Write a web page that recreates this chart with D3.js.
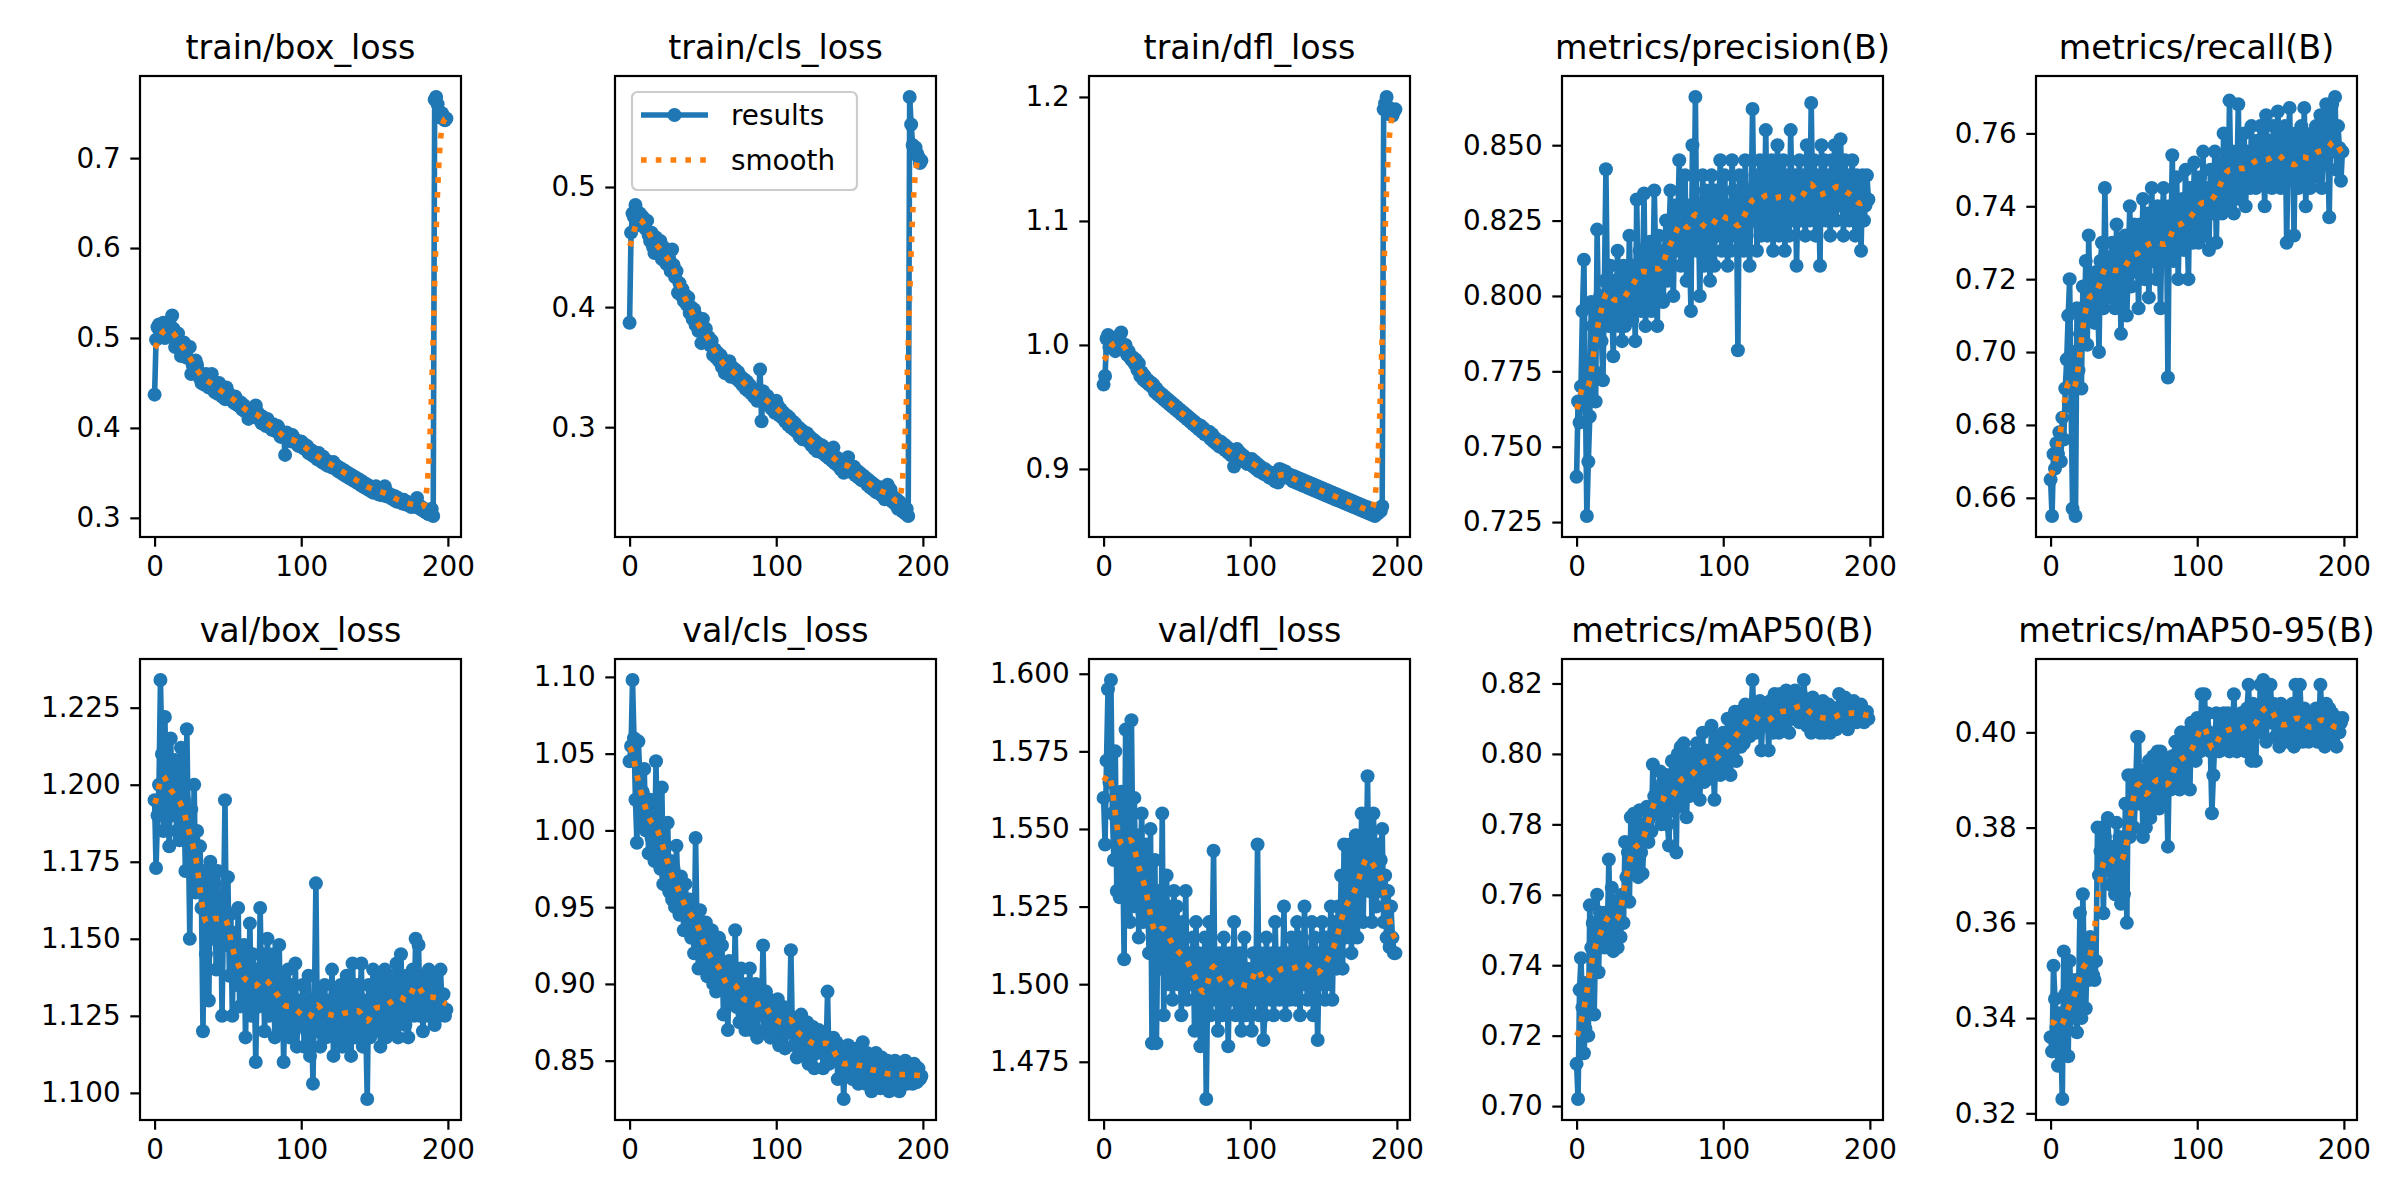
<!DOCTYPE html>
<html>
<head>
<meta charset="utf-8">
<script src="https://cdn.jsdelivr.net/npm/d3@7"></script>
<style>
  body { margin: 0; background: #fff; }
  text { font-family: "DejaVu Sans", sans-serif; fill: #000; }
</style>
</head>
<body>
<script>
// one value per epoch, 200 epochs
var titles = ['train/box_loss', 'train/cls_loss', 'train/dfl_loss', 'metrics/precision(B)', 'metrics/recall(B)',
  'val/box_loss', 'val/cls_loss', 'val/dfl_loss', 'metrics/mAP50(B)', 'metrics/mAP50-95(B)']

var trainBox = [.437,.498,.512,.515,.505,.51,.517,.5,.51,.508, .505,.513,.525,.51,.49,.5,.505,.495,.48,.49,
  .495,.485,.478,.49,.49,.46,.47,.465,.475,.47, .462,.455,.45,.458,.448,.46,.45,.445,.452,.46,
  .448,.44,.445,.438,.45,.444,.435,.44,.432,.445, .44,.432,.436,.43,.428,.435,.426,.43,.424,.428,
  .42,.425,.418,.422,.41,.418,.42,.415,.412,.425, .418,.41,.414,.405,.412,.408,.402,.41,.404,.4,
  .398,.404,.4,.396,.402,.398,.39,.395,.392,.37, .395,.39,.388,.385,.392,.388,.384,.386,.38,.382,
  .385,.378,.382,.376,.38,.372,.376,.37,.374,.368, .37,.365,.372,.366,.362,.368,.36,.364,.358,.362,
  .36,.356,.362,.355,.358,.352,.356,.35,.354,.348, .352,.346,.35,.344,.348,.342,.346,.34,.344,.338,
  .342,.336,.34,.334,.338,.332,.336,.33,.334,.328, .332,.335,.33,.326,.33,.325,.328,.335,.324,.328,
  .326,.322,.325,.32,.324,.318,.322,.318,.32,.316, .32,.315,.318,.314,.316,.312,.315,.318,.312,.322,
  .314,.31,.312,.308,.31,.306,.308,.304,.305,.31, .302,.765,.768,.76,.752,.745,.75,.744,.742,.744]

var trainCls = [.387,.462,.478,.475,.485,.48,.472,.478,.468,.475, .47,.465,.472,.46,.455,.462,.45,.445,.458,.452,
  .448,.455,.44,.45,.442,.436,.445,.44,.43,.448, .435,.425,.43,.412,.42,.41,.415,.405,.41,.402,
  .408,.395,.4,.39,.398,.385,.392,.38,.385,.37, .39,.378,.382,.372,.375,.368,.372,.36,.365,.358,
  .362,.355,.36,.35,.356,.345,.352,.348,.355,.342, .35,.345,.348,.34,.346,.338,.342,.335,.34,.332,
  .338,.33,.335,.328,.332,.325,.33,.322,.328,.348, .305,.33,.325,.32,.326,.318,.322,.315,.32,.312,
  .322,.318,.31,.315,.308,.312,.305,.31,.302,.308, .3,.305,.298,.303,.296,.3,.292,.298,.29,.296,
  .29,.295,.288,.292,.285,.29,.282,.288,.28,.286, .282,.285,.278,.283,.276,.28,.274,.278,.272,.283,
  .27,.275,.268,.272,.265,.27,.262,.268,.272,.275, .268,.264,.262,.267,.26,.264,.258,.262,.256,.26,
  .255,.258,.252,.256,.25,.254,.248,.252,.246,.25, .245,.25,.243,.248,.24,.246,.252,.244,.248,.238,
  .242,.236,.24,.232,.238,.235,.23,.234,.228,.232, .226,.575,.552,.535,.53,.533,.528,.525,.52,.522]

var trainDfl = [.968,.975,1.005,1.008,.998,1.0,1.004,1.002,.995,1.006, 1.0,1.008,1.01,.998,.996,1.0,.992,.995,.99,.988,
  .99,.985,.988,.98,.985,.975,.978,.972,.975,.97, .972,.968,.97,.966,.968,.962,.965,.96,.962,.958,
  .96,.956,.958,.954,.956,.952,.954,.95,.952,.948, .95,.946,.948,.944,.946,.942,.944,.94,.942,.938,
  .94,.936,.938,.934,.936,.932,.935,.93,.933,.928, .93,.927,.93,.924,.928,.922,.925,.92,.923,.918,
  .922,.917,.92,.915,.918,.913,.916,.911,.914,.902, .912,.916,.91,.913,.908,.911,.906,.909,.904,.907,
  .905,.908,.902,.906,.9,.904,.898,.902,.9,.896, .9,.895,.898,.893,.897,.892,.895,.89,.894,.889,
  .9,.896,.899,.894,.898,.893,.896,.892,.895,.89, .894,.889,.893,.888,.892,.887,.891,.886,.89,.885,
  .889,.884,.888,.883,.887,.882,.886,.881,.885,.88, .884,.879,.883,.878,.882,.877,.881,.876,.88,.875,
  .879,.874,.878,.873,.877,.872,.876,.871,.875,.87, .874,.869,.873,.868,.872,.867,.871,.866,.87,.865,
  .869,.864,.868,.863,.867,.862,.866,.864,.868,.866, .87,1.19,1.195,1.2,1.192,1.186,1.19,1.185,1.188,1.19]

var precision = [.74,.765,.758,.77,.795,.812,.768,.727,.745,.76, .798,.79,.775,.765,.822,.79,.8,.785,.772,.805,
  .842,.8,.79,.81,.795,.78,.805,.798,.815,.79, .8,.785,.81,.79,.805,.795,.82,.8,.792,.81,
  .785,.832,.8,.815,.795,.808,.834,.79,.81,.8, .818,.795,.805,.835,.81,.79,.82,.8,.812,.798,
  .815,.825,.805,.82,.835,.81,.8,.83,.815,.825, .845,.81,.83,.82,.84,.805,.83,.815,.795,.85,
  .82,.866,.815,.83,.8,.825,.84,.81,.835,.82, .82,.805,.84,.825,.81,.835,.82,.83,.845,.815,
  .82,.84,.825,.81,.83,.815,.845,.835,.82,.83, .782,.84,.825,.83,.815,.845,.82,.835,.81,.83,
  .862,.825,.84,.815,.83,.845,.82,.835,.825,.855, .82,.84,.83,.845,.815,.835,.825,.85,.82,.84,
  .83,.845,.815,.835,.84,.82,.855,.83,.825,.84, .81,.835,.845,.825,.84,.83,.82,.85,.835,.825,
  .864,.83,.845,.82,.84,.835,.81,.85,.83,.845, .825,.84,.835,.82,.845,.83,.85,.825,.84,.83,
  .852,.835,.82,.845,.83,.84,.825,.835,.845,.83, .82,.84,.83,.835,.815,.84,.825,.83,.84,.832]

var recall = [.665,.655,.672,.668,.675,.672,.678,.67,.682,.676, .69,.698,.71,.72,.685,.657,.7,.655,.712,.695,
  .705,.69,.718,.708,.725,.702,.732,.71,.715,.72, .708,.722,.716,.7,.725,.73,.712,.745,.72,.718,
  .726,.715,.73,.72,.712,.735,.722,.728,.705,.73, .72,.732,.71,.725,.74,.718,.728,.735,.722,.73,
  .712,.735,.725,.742,.72,.73,.738,.715,.728,.745, .725,.735,.72,.74,.73,.712,.735,.745,.728,.738,
  .693,.74,.73,.754,.725,.735,.748,.72,.738,.73, .742,.728,.75,.735,.72,.745,.738,.73,.752,.735,
  .74,.73,.748,.738,.755,.732,.745,.74,.728,.75, .742,.738,.755,.73,.748,.742,.752,.738,.76,.745,
  .75,.74,.769,.745,.755,.738,.75,.745,.768,.742, .752,.745,.76,.74,.755,.75,.745,.762,.748,.755,
  .745,.758,.75,.762,.748,.755,.74,.765,.752,.748, .758,.745,.762,.752,.748,.766,.755,.745,.76,.75,
  .762,.73,.755,.767,.748,.758,.732,.76,.752,.745, .755,.762,.748,.767,.74,.758,.752,.745,.76,.755,
  .748,.762,.755,.75,.765,.745,.758,.752,.768,.755, .737,.76,.768,.755,.77,.75,.762,.756,.747,.755]

var valBox = [1.195,1.173,1.19,1.2,1.234,1.21,1.185,1.222,1.2,1.195, 1.18,1.215,1.19,1.2,1.208,1.185,1.198,1.182,1.212,1.19,
  1.195,1.172,1.218,1.185,1.15,1.192,1.178,1.2,1.165,1.185, 1.17,1.18,1.16,1.12,1.172,1.145,1.165,1.13,1.175,1.158,
  1.15,1.168,1.14,1.172,1.155,1.162,1.125,1.158,1.195,1.148, 1.17,1.138,1.158,1.125,1.152,1.145,1.135,1.16,1.128,1.142,
  1.135,1.148,1.118,1.14,1.13,1.155,1.125,1.145,1.135,1.11, 1.14,1.128,1.16,1.132,1.145,1.12,1.138,1.15,1.125,1.142,
  1.13,1.145,1.118,1.135,1.128,1.148,1.12,1.138,1.11,1.132, 1.125,1.14,1.118,1.135,1.128,1.12,1.142,1.115,1.13,1.125,
  1.122,1.135,1.115,1.128,1.12,1.138,1.112,1.126,1.103,1.13, 1.168,1.12,1.132,1.115,1.128,1.122,1.135,1.118,1.13,1.12,
  1.125,1.14,1.112,1.128,1.118,1.132,1.12,1.135,1.115,1.13, 1.122,1.138,1.118,1.13,1.112,1.142,1.125,1.118,1.135,1.12,
  1.128,1.142,1.115,1.13,1.122,1.098,1.135,1.118,1.128,1.14, 1.12,1.132,1.125,1.138,1.115,1.13,1.122,1.14,1.118,1.135,
  1.125,1.138,1.12,1.132,1.128,1.142,1.118,1.135,1.145,1.125, 1.13,1.122,1.138,1.118,1.135,1.128,1.14,1.125,1.15,1.132,
  1.148,1.125,1.138,1.12,1.135,1.13,1.125,1.14,1.132,1.128, 1.135,1.122,1.138,1.13,1.125,1.14,1.128,1.132,1.125,1.127]

var valCls = [1.045,1.055,1.098,1.06,1.02,.992,1.058,1.035,1.005,1.025, 1.04,1.0,1.015,.985,1.02,.995,1.01,.98,1.045,.99,
  1.0,.975,1.028,.965,.99,.97,1.005,.96,.98,.955, .975,.95,.99,.96,.945,.97,.955,.935,.965,.95,
  .94,.955,.93,.945,.92,.995,.935,.91,.948,.925, .93,.915,.94,.905,.925,.91,.935,.9,.92,.895,
  .915,.93,.905,.925,.88,.91,.9,.87,.915,.895, .905,.89,.935,.885,.9,.875,.91,.88,.895,.87,
  .9,.885,.91,.87,.895,.88,.9,.865,.89,.88, .885,.925,.87,.895,.875,.89,.865,.885,.87,.88,
  .875,.89,.86,.88,.87,.885,.858,.878,.868,.875, .922,.87,.86,.878,.852,.87,.865,.88,.855,.87,
  .862,.875,.848,.868,.86,.872,.845,.865,.855,.87, .858,.868,.845,.862,.855,.895,.848,.86,.852,.865,
  .85,.862,.838,.858,.848,.855,.825,.852,.845,.86, .848,.855,.838,.852,.842,.858,.835,.85,.84,.862,
  .845,.835,.855,.84,.85,.83,.848,.842,.855,.838, .848,.832,.852,.84,.845,.835,.85,.83,.845,.84,
  .842,.85,.835,.848,.83,.845,.84,.838,.85,.835, .845,.838,.842,.835,.848,.84,.836,.845,.838,.84]

var valDfl = [1.56,1.545,1.572,1.595,1.565,1.598,1.555,1.54,1.575,1.53, 1.55,1.528,1.562,1.545,1.508,1.582,1.535,1.55,1.52,1.585,
  1.54,1.56,1.525,1.548,1.515,1.538,1.555,1.52,1.53,1.545, 1.53,1.51,1.55,1.481,1.525,1.54,1.481,1.515,1.53,1.505,
  1.555,1.49,1.52,1.535,1.5,1.525,1.51,1.495,1.53,1.505, 1.525,1.5,1.515,1.49,1.52,1.505,1.53,1.495,1.51,1.5,
  1.5,1.515,1.485,1.52,1.495,1.51,1.48,1.505,1.49,1.515, 1.463,1.5,1.52,1.49,1.51,1.543,1.495,1.505,1.485,1.51,
  1.5,1.49,1.515,1.495,1.505,1.48,1.51,1.495,1.5,1.52, 1.49,1.505,1.495,1.51,1.485,1.5,1.515,1.49,1.505,1.495,
  1.5,1.485,1.51,1.495,1.505,1.545,1.49,1.51,1.5,1.482, 1.49,1.515,1.5,1.505,1.495,1.51,1.49,1.52,1.5,1.505,
  1.495,1.51,1.5,1.525,1.49,1.51,1.505,1.495,1.515,1.5, 1.51,1.495,1.52,1.505,1.49,1.515,1.5,1.525,1.505,1.495,
  1.51,1.5,1.52,1.49,1.515,1.505,1.482,1.51,1.5,1.52, 1.505,1.495,1.515,1.5,1.51,1.525,1.495,1.52,1.51,1.505,
  1.525,1.51,1.535,1.505,1.545,1.515,1.53,1.52,1.545,1.51, 1.535,1.52,1.548,1.515,1.54,1.53,1.555,1.52,1.545,1.535,
  1.567,1.53,1.548,1.52,1.555,1.535,1.525,1.545,1.53,1.54, 1.55,1.52,1.535,1.515,1.53,1.512,1.525,1.515,1.51,1.51]

var map50 = [.712,.702,.733,.742,.728,.715,.722,.735,.72,.757, .745,.752,.726,.748,.76,.738,.755,.748,.752,.745,
  .755,.75,.77,.748,.762,.744,.758,.75,.745,.755, .748,.76,.752,.775,.765,.772,.758,.782,.768,.783,
  .77,.778,.765,.784,.772,.766,.776,.78,.785,.775, .782,.778,.797,.788,.785,.79,.783,.795,.78,.792,
  .788,.794,.78,.774,.79,.798,.784,.795,.772,.8, .79,.802,.785,.803,.795,.782,.798,.788,.8,.792,
  .795,.79,.803,.798,.787,.8,.806,.792,.801,.795, .8,.793,.808,.799,.787,.803,.797,.805,.794,.8,
  .806,.802,.795,.81,.804,.794,.808,.802,.812,.798, .806,.812,.802,.81,.803,.814,.808,.812,.805,.811,
  .821,.81,.806,.812,.808,.815,.801,.81,.814,.808, .812,.801,.815,.809,.806,.817,.811,.814,.806,.817,
  .81,.814,.808,.818,.812,.806,.816,.81,.813,.818, .81,.815,.809,.817,.812,.821,.813,.808,.815,.811,
  .806,.816,.81,.814,.808,.812,.806,.811,.815,.806, .812,.808,.814,.806,.811,.809,.813,.807,.81,.817,
  .808,.813,.809,.816,.811,.807,.814,.81,.812,.815, .811,.809,.813,.81,.814,.812,.809,.811,.812,.81]

var map5095 = [.336,.333,.351,.344,.338,.33,.341,.335,.323,.354, .345,.338,.332,.352,.344,.347,.34,.348,.337,.344,
  .362,.34,.366,.35,.342,.355,.348,.357,.356,.349, .348,.352,.38,.37,.375,.38,.362,.378,.372,.382,
  .375,.368,.376,.37,.366,.381,.372,.378,.364,.373, .366,.385,.36,.391,.378,.385,.391,.38,.388,.399,
  .399,.385,.392,.378,.39,.38,.386,.394,.382,.39, .395,.385,.39,.396,.384,.396,.39,.386,.392,.39,
  .376,.394,.388,.395,.39,.398,.392,.396,.388,.4, .393,.397,.39,.4,.395,.388,.402,.396,.398,.394,
  .403,.398,.396,.408,.402,.408,.398,.404,.4,.396, .383,.391,.398,.404,.4,.396,.402,.398,.404,.398,
  .4,.404,.396,.402,.398,.408,.4,.396,.403,.399, .404,.398,.402,.396,.405,.41,.4,.394,.406,.402,
  .394,.405,.4,.41,.402,.411,.404,.398,.406,.41, .41,.402,.406,.399,.405,.4,.397,.406,.403,.399,
  .4,.405,.398,.404,.4,.406,.397,.41,.402,.398, .41,.403,.398,.405,.4,.402,.398,.404,.4,.399,
  .4,.405,.398,.402,.41,.404,.4,.397,.406,.402, .405,.4,.404,.398,.402,.397,.403,.4,.402,.403]

var series = [trainBox, trainCls, trainDfl, precision, recall, valBox, valCls, valDfl, map50, map5095]
var yTicks = [[.3,.4,.5,.6,.7], [.3,.4,.5], [.9,1.0,1.1,1.2], [.725,.75,.775,.8,.825,.85], [.66,.68,.7,.72,.74,.76],
  [1.1,1.125,1.15,1.175,1.2,1.225], [.85,.9,.95,1.0,1.05,1.1], [1.475,1.5,1.525,1.55,1.575,1.6], [.7,.72,.74,.76,.78,.8,.82], [.32,.34,.36,.38,.4]]
var yDigits = [1, 1, 1, 3, 2, 3, 2, 3, 2, 2]
var xTicks = [0, 100, 200]
var legendLabels = ['results', 'smooth']

var W = 2400, H = 1200,
  colLeft = [140, 615, 1089, 1562, 2036],
  rowTop = [76, 659],
  aw = 321, ah = 461,
  blue = '#1f77b4', orange = '#ff7f0e'

// gaussian smoothing like scipy gaussian_filter1d(sigma=3), reflect mode
function smooth(y, sigma) {
  var r = Math.round(4 * sigma), k = [], s = 0, n = y.length
  for (var i = -r; i <= r; i++) { var v = Math.exp(-0.5 * i * i / (sigma * sigma)); k.push(v); s += v }
  return y.map(function(_, i) {
    var acc = 0
    for (var j = -r; j <= r; j++) {
      var p = i + j
      while (p < 0 || p >= n) p = p < 0 ? -p - 1 : 2 * n - p - 1
      acc += y[p] * k[j + r]
    }
    return acc / s
  })
}

var svg = d3.select('body').append('svg').attr('width', W).attr('height', H)
svg.append('rect').attr('width', W).attr('height', H).attr('fill', '#fff')

series.forEach(function(y, idx) {
  var x0 = colLeft[idx % 5], y0 = rowTop[Math.floor(idx / 5)]
  var xs = y.map(function(_, i) { return i })
  var sm = smooth(y, 3)
  var ext = d3.extent(y.concat(sm)), pad = (ext[1] - ext[0]) * 0.05
  var xpad = (xs.length - 1) * 0.05
  var x = d3.scaleLinear().domain([-xpad, xs.length - 1 + xpad]).range([0, aw])
  var yS = d3.scaleLinear().domain([ext[0] - pad, ext[1] + pad]).range([ah, 0])
  var g = svg.append('g').attr('transform', 'translate(' + x0 + ',' + y0 + ')')
  var clip = 'clip' + idx
  g.append('clipPath').attr('id', clip).append('rect').attr('width', aw).attr('height', ah)

  var plot = g.append('g').attr('clip-path', 'url(#' + clip + ')')
  var line = d3.line().x(function(d, i) { return x(i) }).y(function(d) { return yS(d) })
  plot.append('path').datum(y).attr('d', line).attr('fill', 'none').attr('stroke', blue)
    .attr('stroke-width', 5.6).attr('stroke-linejoin', 'round').attr('stroke-linecap', 'round')
  plot.selectAll('circle').data(y).join('circle')
    .attr('cx', function(d, i) { return x(i) }).attr('cy', function(d) { return yS(d) })
    .attr('r', 7).attr('fill', blue)
  plot.append('path').datum(sm).attr('d', line).attr('fill', 'none').attr('stroke', orange)
    .attr('stroke-width', 5.6).attr('stroke-dasharray', '5.6,9.2')

  var xa = g.append('g').attr('transform', 'translate(0,' + ah + ')')
    .call(d3.axisBottom(x).tickValues(xTicks).tickSize(9.7).tickPadding(9.7).tickFormat(d3.format('d')))
  var ya = g.append('g')
    .call(d3.axisLeft(yS).tickValues(yTicks[idx]).tickSize(9.7).tickPadding(9.7).tickFormat(d3.format('.' + yDigits[idx] + 'f')))
  ;[xa, ya].forEach(function(a) {
    a.select('.domain').remove()
    a.selectAll('.tick line').attr('stroke', '#000').attr('stroke-width', 2.2)
    a.selectAll('.tick text').style('font-size', '27.8px').style('font-family', '"DejaVu Sans", sans-serif')
  })
  g.append('rect').attr('width', aw).attr('height', ah).attr('fill', 'none').attr('stroke', '#000').attr('stroke-width', 2.2)
  g.append('text').attr('x', aw / 2).attr('y', -17).attr('text-anchor', 'middle')
    .style('font-size', '33.3px').text(titles[idx])

  if (idx === 1) {
    var lg = g.append('g').attr('transform', 'translate(17,16)')
    lg.append('rect').attr('width', 225).attr('height', 98).attr('rx', 5.5)
      .attr('fill', '#fff').attr('fill-opacity', 0.8).attr('stroke', '#ccc').attr('stroke-width', 2.2)
    lg.append('line').attr('x1', 9).attr('x2', 76).attr('y1', 23).attr('y2', 23)
      .attr('stroke', blue).attr('stroke-width', 5.6)
    lg.append('circle').attr('cx', 42.5).attr('cy', 23).attr('r', 7).attr('fill', blue)
    lg.append('line').attr('x1', 9).attr('x2', 76).attr('y1', 68).attr('y2', 68)
      .attr('stroke', orange).attr('stroke-width', 5.6).attr('stroke-dasharray', '5.6,9.2')
    legendLabels.forEach(function(t, i) {
      lg.append('text').attr('x', 99).attr('y', 23 + i * 45).attr('dy', '0.35em')
        .style('font-size', '27.8px').text(t)
    })
  }
})
</script>
</body>
</html>
